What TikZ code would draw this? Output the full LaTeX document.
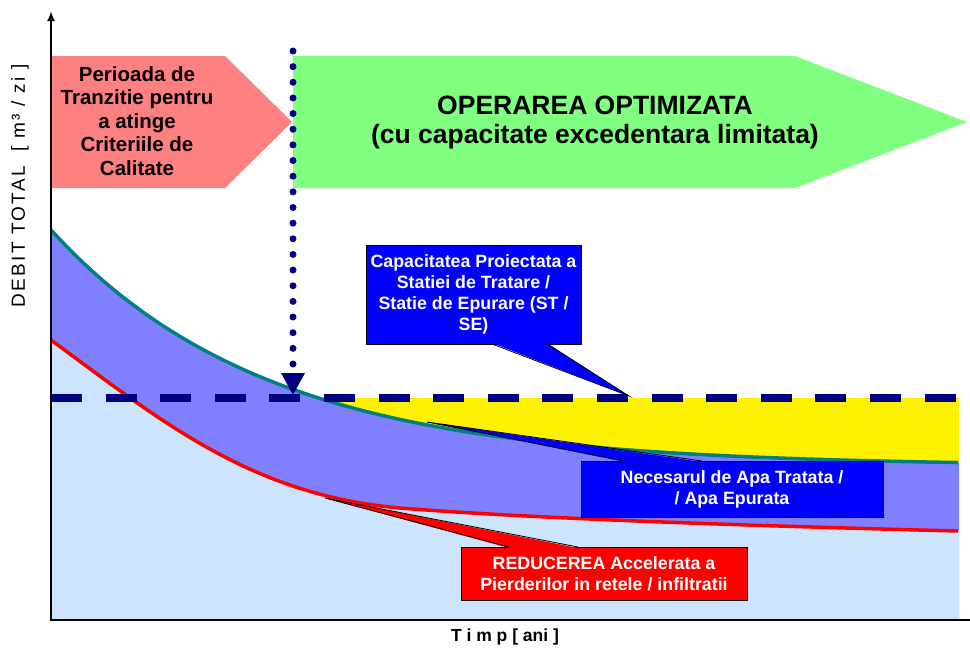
\documentclass[tikz,border=0pt]{standalone}
\usepackage{fontspec}
\setmainfont{Liberation Sans}
\newfontfamily\spacedfont[LetterSpace=12]{Liberation Sans}
\usetikzlibrary{arrows.meta}

\definecolor{pinkfill}{RGB}{255,128,128}
\definecolor{greenfill}{RGB}{128,255,128}
\definecolor{violetfill}{RGB}{128,128,255}
\definecolor{lightbluefill}{RGB}{204,228,252}
\definecolor{navyline}{RGB}{0,0,128}
\definecolor{tealline}{RGB}{0,128,128}

\begin{document}
\begin{tikzpicture}[
    x=1pt, y=-1pt,
    axisline/.style={line width=2.5pt, draw=black},
    phasetext/.style={font=\bfseries\fontsize{20.5}{23.5}\selectfont, align=center, inner sep=0pt},
    titletext/.style={font=\bfseries\fontsize{26.5}{29}\selectfont, align=center, inner sep=0pt},
    calloutbox/.style={rectangle, draw=black, line width=1pt, outer sep=0pt, inner sep=0pt, text=white, align=center, font=\bfseries\fontsize{17.8}{21}\selectfont},
    pointer/.style={draw=black, line width=0.8pt},
    curveline/.style={line width=3.5pt},
    capline/.style={draw=navyline, line width=8pt, dash pattern=on 31pt off 23.6pt},
    dotline/.style={draw=navyline, line width=7pt, line cap=round, dash pattern=on 0pt off 15.65pt}
]
\useasboundingbox (0,0) rectangle (970,648);

% ============ AREAS ============
\fill[yellow] (300,398) rectangle (959,470);
\fill[violetfill] (51,620) -- plot[domain=51:959, samples=90] (\x,{466-236*exp(-(\x-51)/215)}) -- (959,620) -- cycle;
\fill[lightbluefill] (51,620) -- (51,340) .. controls (160,420) and (250,495) .. (400,508) .. controls (550,520) and (800,527) .. (959,531) -- (959,620) -- cycle;

\draw[curveline, draw=tealline] plot[domain=51:958, samples=90] (\x,{466-236*exp(-(\x-51)/215)});
\draw[curveline, draw=red] (51,340) .. controls (160,420) and (250,495) .. (400,508) .. controls (550,520) and (800,527) .. (958,531);

% design capacity
\coordinate (capstart) at (51,398);
\coordinate (capend) at (959,398);
\draw[capline] (capstart) -- (capend);

% ============ PHASES ============
\fill[pinkfill] (51,56) -- (225,56) -- (292,122) -- (225,188) -- (51,188) -- cycle;
\fill[greenfill] (293,56) -- (795,56) -- (967,122) -- (795,188) -- (293,188) -- cycle;
\node[phasetext] (transtext) at (137,121) {Perioada de\\Tranzitie pentru\\a atinge\\Criteriile de\\Calitate};
\node[titletext] (opttext) at (595,122) {OPERAREA OPTIMIZATA\\(cu capacitate excedentara limitata)};

% switch-over marker
\coordinate (droptop) at (293,51);
\coordinate (dropend) at (293,366);
\coordinate (dropbase) at (293,373);
\coordinate (droptip) at (293,395);
\draw[dotline] (droptop) -- (dropend);
\fill[navyline] ([xshift=-12pt]dropbase) -- ([xshift=12pt]dropbase) -- (droptip) -- cycle;

% ============ AXES ============
\coordinate (origin) at (51,620);
\coordinate (ytop) at (51,11);
\coordinate (xend) at (970,620);
\draw[axisline] ([xshift=-1.25pt]origin) -- (xend);
\draw[axisline, -{Latex[length=10pt, width=8pt]}] (origin) -- (ytop);
\node[rotate=90, font=\spacedfont\fontsize{19}{22}\selectfont] (ylabel) at (20,186) {DEBIT TOTAL\ \ [ m³ / zi ]};
\node[font=\bfseries\fontsize{17.5}{20}\selectfont] (xlabel) at (505,637) {T i m p [ ani ]};

% ============ CALLOUTS ============
\node[calloutbox, fill=blue, minimum width=215pt, minimum height=99pt] (capbox) at (473.5,294.5) {Capacitatea Proiectata a\\Statiei de Tratare /\\Statie de Epurare (ST /\\SE)};
\coordinate (captip) at (629,396);
\fill[blue] ([xshift=18.5pt, yshift=1pt]capbox.south) -- (captip) -- ([xshift=73.5pt, yshift=1pt]capbox.south) -- cycle;
\draw[pointer] ([xshift=18.5pt]capbox.south) -- (captip) -- ([xshift=73.5pt]capbox.south);

\node[calloutbox, fill=blue, minimum width=302pt, minimum height=56pt] (needbox) at (732,489) {Necesarul de Apa Tratata /\\/ Apa Epurata};
\coordinate (needtip) at (427,422);
\fill[blue] ([xshift=-107pt, yshift=-1pt]needbox.north) -- (needtip) -- ([xshift=-30pt, yshift=-1pt]needbox.north) -- cycle;
\draw[pointer] ([xshift=-107pt]needbox.north) -- (needtip) -- ([xshift=-30pt]needbox.north);

\node[calloutbox, fill=red, minimum width=286pt, minimum height=53pt] (lossbox) at (604,573.5) {REDUCEREA Accelerata a\\Pierderilor in retele / infiltratii};
\coordinate (losstip) at (325,498);
\fill[red] ([xshift=-95pt, yshift=-1pt]lossbox.north) -- (losstip) -- ([xshift=-26pt, yshift=-1pt]lossbox.north) -- cycle;
\draw[pointer] ([xshift=-95pt]lossbox.north) -- (losstip) -- ([xshift=-26pt]lossbox.north);

\end{tikzpicture}
\end{document}
